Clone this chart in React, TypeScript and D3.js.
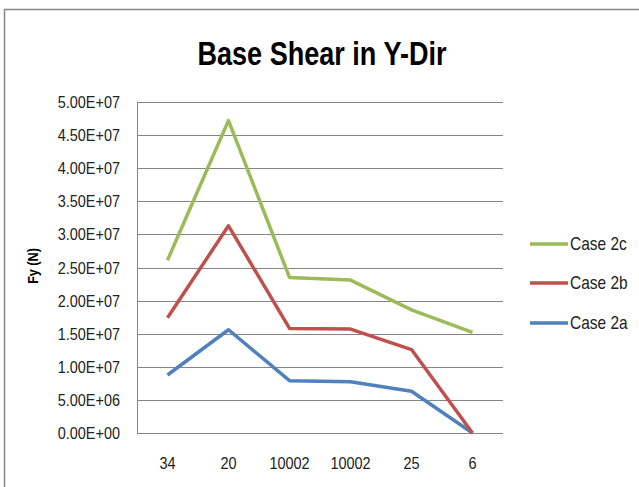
import React, { useEffect, useRef } from 'react'
import * as d3 from 'd3'

const categories = ['34', '20', '10002', '10002', '25', '6']
const case2a = [8.76e6, 1.56e7, 7.9e6, 7.75e6, 6.3e6, 0]
const case2b = [1.74e7, 3.13e7, 1.58e7, 1.57e7, 1.26e7, 0]
const case2c = [2.61e7, 4.72e7, 2.35e7, 2.31e7, 1.86e7, 1.52e7]
const yTicks = [0, 5e6, 1e7, 1.5e7, 2e7, 2.5e7, 3e7, 3.5e7, 4e7, 4.5e7, 5e7]

const seriesList = [
  { name: 'Case 2c', values: case2c, color: '#9BBB59' },
  { name: 'Case 2b', values: case2b, color: '#C0504D' },
  { name: 'Case 2a', values: case2a, color: '#4F81BD' },
]

const font = "'Liberation Sans', Arial, sans-serif"

// scientific label like Excel: 5.00E+07
const fmt = (d: number) => {
  const s = d3.format('.2e')(d)
  const [m, e] = s.split('e')
  const n = Math.abs(+e)
  return m + 'E' + (+e < 0 ? '-' : '+') + (n < 10 ? '0' + n : n)
}

const App = () => {
  const ref = useRef<SVGSVGElement>(null)

  useEffect(() => {
    const svg = d3.select(ref.current)
    svg.selectAll('*').remove()

    const plot = { left: 137, right: 503, top: 102, bottom: 433 }

    const x = d3.scaleBand()
      .domain(categories.map((c, i) => i + ''))
      .range([plot.left, plot.right])
    const y = d3.scaleLinear()
      .domain([0, 5e7])
      .range([plot.bottom, plot.top])

    // narrow text: regular font squeezed horizontally
    const narrow = (g: any, txt: string, tx: number, ty: number, size: number, sx: number, anchor: string, weight = 400) =>
      g.append('text')
        .text(txt)
        .attr('transform', 'translate(' + tx + ',' + ty + ') scale(' + sx + ',1)')
        .attr('text-anchor', anchor)
        .attr('font-family', font)
        .attr('font-weight', weight)
        .attr('font-size', size)
        .attr('fill', weight > 400 ? '#000' : '#222')

    // outer frame
    svg.append('rect')
      .attr('x', 4.5).attr('y', 9.5)
      .attr('width', 660).attr('height', 500)
      .attr('fill', 'white')
      .attr('stroke', '#868686').attr('stroke-width', 1.5)

    narrow(svg, 'Base Shear in Y-Dir', 322, 65, 33, 0.82, 'middle', 700)

    // gridlines
    svg.append('g').selectAll('line')
      .data(yTicks)
      .join('line')
      .attr('x1', plot.left).attr('x2', plot.right)
      .attr('y1', d => Math.round(y(d)) + 0.5).attr('y2', d => Math.round(y(d)) + 0.5)
      .attr('stroke', '#868686').attr('stroke-width', 1)

    svg.append('line')
      .attr('x1', plot.left + 0.5).attr('x2', plot.left + 0.5)
      .attr('y1', plot.top).attr('y2', plot.bottom)
      .attr('stroke', '#868686')

    const yLabels = svg.append('g')
    yTicks.forEach(d => narrow(yLabels, fmt(d), 120, y(d) + 6, 17, 0.85, 'end'))

    const xLabels = svg.append('g')
    categories.forEach((c, i) => narrow(xLabels, c, x(i + '')! + x.bandwidth() / 2, 469, 17, 0.85, 'middle'))

    svg.append('text')
      .text('Fy (N)')
      .attr('transform', 'translate(38,266) rotate(-90) scale(0.9,1)')
      .attr('text-anchor', 'middle')
      .attr('font-family', font)
      .attr('font-weight', 700)
      .attr('font-size', 14)

    const line = d3.line<number>()
      .x((d, i) => x(i + '')! + x.bandwidth() / 2)
      .y(d => y(d))

    seriesList.slice().reverse().forEach(s => {
      svg.append('path')
        .attr('d', line(s.values))
        .attr('fill', 'none')
        .attr('stroke', s.color)
        .attr('stroke-width', 3.5)
        .attr('stroke-linejoin', 'round')
    })

    const legendY = [244, 283, 323]
    const legend = svg.append('g')
    seriesList.forEach((s, i) => {
      legend.append('line')
        .attr('x1', 530).attr('x2', 568)
        .attr('y1', legendY[i]).attr('y2', legendY[i])
        .attr('stroke', s.color).attr('stroke-width', 3.5)
      narrow(legend, s.name, 570, legendY[i] + 6, 18, 0.86, 'start')
    })
  }, [])

  return (
    <div>
      <svg ref={ref} width={639} height={487} style={{ position: 'absolute', left: 0, top: 0 }}></svg>
    </div>
  )
}

export default App
